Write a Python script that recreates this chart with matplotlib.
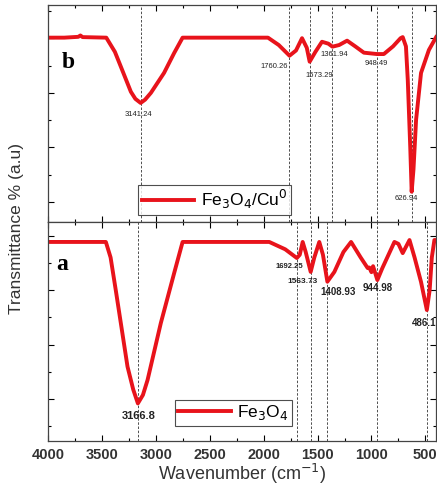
import matplotlib
matplotlib.use('Agg')
import matplotlib.pyplot as plt
from matplotlib.ticker import MultipleLocator

# FTIR spectra: wavenumber (cm-1) vs transmittance (a.u.)
wn_b = [4000, 3850, 3720, 3700, 3680, 3460, 3380, 3325, 3232, 3190, 3141.24, 3100,
        3046, 2924, 2830, 2752, 2400, 1960, 1860, 1760.26, 1700, 1644, 1600,
        1573.29, 1520, 1459, 1400, 1361.94, 1300, 1226, 1150, 1070, 948.49,
        885, 800, 730, 710, 680, 663, 640, 626.94, 610, 586, 540, 467, 400]
tr_b = [60.2, 60.2, 60.5, 61.0, 60.4, 60.2, 55.0, 49.6, 40.4, 37.8, 36.3, 37.5,
        40.0, 47.3, 54.6, 60.2, 60.2, 60.2, 57.5, 53.6, 55.5, 60.0, 56.5,
        51.4, 55.0, 58.7, 58.0, 56.9, 57.5, 59.1, 57.0, 54.7, 54.2,
        54.2, 57.0, 60.0, 60.4, 57.0, 44.7, 20.0, 3.8, 12.0, 30.1, 47.3, 55.7, 60.4]

wn_a = [4000, 3800, 3464, 3420, 3372, 3263, 3210, 3166.8, 3120, 3077, 2954, 2830,
        2752, 2400, 1948, 1800, 1692.25, 1665, 1638, 1610, 1563.73, 1530, 1484,
        1450, 1408.93, 1344, 1260, 1189, 1100, 1035, 1020, 1000, 985, 944.98, 900,
        787, 750, 710, 647, 600, 540, 486.1, 460, 440, 416, 400]
tr_a = [57.7, 57.7, 57.7, 52.0, 40.0, 11.9, 3.5, -1.6, 1.5, 7.0, 27.9, 46.3,
        57.7, 57.7, 57.7, 55.0, 51.8, 53.0, 57.7, 54.0, 46.7, 52.0, 57.7,
        53.0, 43.1, 46.7, 54.0, 57.7, 52.0, 48.1, 48.3, 46.6, 48.8, 43.7, 48.0,
        57.7, 57.0, 53.6, 58.4, 52.0, 43.0, 32.7, 40.0, 52.0, 58.4, 58.4]

peaks_b = [3141.24, 1760.26, 1573.29, 1361.94, 948.49, 626.94]
peaks_a = [3166.8, 1692.25, 1563.73, 1408.93, 944.98, 486.1]
labels_b = ['3141.24', '1760.26', '1573.29', '1361.94', '948.49', '626.94']
labels_a = ['3166.8', '1692.25', '1563.73', '1408.93', '944.98', '486.1']

# label anchor points (wavenumber, transmittance) and font sizes
pos_b = [(3158, 31.9), (1904, 49.5), (1487, 46.2), (1347, 54.2), (957, 50.9), (679, 1.5)]
pos_a = [(3158, -6.1), (1765, 48.6), (1635, 43.1), (1310, 39.4), (939, 40.9), (512, 27.8)]
size_a = [8, 5.5, 6, 7, 7, 7]

RED = '#e8131b'
plt.rcParams['font.family'] = ['Liberation Sans', 'DejaVu Sans']

fig = plt.figure(figsize=(4.37, 4.87), dpi=100)
ax_b = fig.add_axes([0.110, 0.544, 0.888, 0.446])
ax_a = fig.add_axes([0.110, 0.0945, 0.888, 0.4495], sharex=ax_b)

ax_b.plot(wn_b, tr_b, color=RED, lw=2.8, solid_joinstyle='round',
          label=r'Fe$_3$O$_4$/Cu$^0$')
ax_a.plot(wn_a, tr_a, color=RED, lw=2.8, solid_joinstyle='round',
          label=r'Fe$_3$O$_4$')

for p in peaks_b:
    ax_b.axvline(p, color='#333333', lw=0.6, ls=(0, (3, 2)), zorder=0)
for p in peaks_a:
    ax_a.axvline(p, color='#333333', lw=0.6, ls=(0, (3, 2)), zorder=0)

for t, (x, y) in zip(labels_b, pos_b):
    ax_b.text(x, y, t, fontsize=5.5, ha='center', va='center', color='#222222')
for t, (x, y), s in zip(labels_a, pos_a, size_a):
    ax_a.text(x, y, t, fontsize=s, ha='center', va='center', color='#222222',
              fontweight='bold')

ax_b.set_ylim(-7.3, 72.2)
ax_a.set_ylim(-15.4, 65.0)
ax_a.set_xlim(4000, 400)

for ax in (ax_b, ax_a):
    ax.xaxis.set_major_locator(MultipleLocator(500))
    ax.xaxis.set_minor_locator(MultipleLocator(250))
    ax.yaxis.set_major_locator(MultipleLocator(20))
    ax.yaxis.set_minor_locator(MultipleLocator(10))
    ax.tick_params(which='both', direction='in', top=True, right=True,
                   labelleft=False, width=0.8)
    ax.tick_params(which='major', length=4)
    ax.tick_params(which='minor', length=2.5)
    for s in ax.spines.values():
        s.set_linewidth(0.9)
        s.set_color('#444444')

ax_b.tick_params(labelbottom=False)
ax_a.tick_params(axis='x', labelsize=10.5, pad=5, labelcolor='#333333')
for lbl in ax_a.get_xticklabels():
    lbl.set_fontweight('bold')
ax_a.set_xlabel(r'Wavenumber (cm$^{-1}$)', fontsize=13, labelpad=0,
                color='#333333')
fig.text(0.037, 0.53, 'Transmittance % (a.u)', rotation=90, fontsize=12.5,
         ha='center', va='center', color='#333333')

ax_b.text(0.052, 0.733, 'b', transform=ax_b.transAxes, fontsize=17,
          fontweight='bold', family='Liberation Serif', ha='center', va='center')
ax_a.text(0.036, 0.804, 'a', transform=ax_a.transAxes, fontsize=17,
          fontweight='bold', family='Liberation Serif', ha='center', va='center')

for ax, anchor, fs in ((ax_b, (0.232, 0.033), 12.5), (ax_a, (0.327, 0.07), 12.5)):
    leg = ax.legend(loc='lower left', bbox_to_anchor=anchor, fontsize=fs,
                    handlelength=3.0, fancybox=False, borderpad=0.2,
                    borderaxespad=0, handletextpad=0.4)
    leg.get_frame().set_edgecolor('#222222')
    leg.get_frame().set_linewidth(0.8)

fig.savefig('out.png', dpi=100)
